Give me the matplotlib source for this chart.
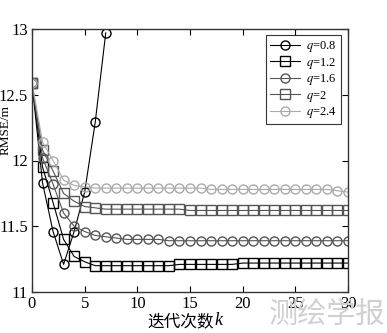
import numpy as np
import matplotlib
matplotlib.use("Agg")
import matplotlib.pyplot as plt

plt.rcParams['font.family'] = ['Liberation Serif', 'Noto Sans CJK SC']
plt.rcParams['mathtext.fontset'] = 'stix'

k = np.arange(0, 31)

# q=0.8 diverges after k=3, only plotted up to k=7
k_08 = np.arange(0, 8)
rmse_08 = [12.59, 11.83, 11.46, 11.21, 11.46, 11.76, 12.29, 12.97]

rmse_12 = [12.59, 11.95, 11.68, 11.40, 11.27, 11.23, 11.20, 11.20, 11.20, 11.20,
           11.20, 11.20, 11.20, 11.20, 11.21, 11.21, 11.21, 11.21, 11.21, 11.21,
           11.22, 11.22, 11.22, 11.22, 11.22, 11.22, 11.22, 11.22, 11.22, 11.22, 11.22]
rmse_16 = [12.59, 12.02, 11.82, 11.60, 11.50, 11.46, 11.43, 11.42, 11.41, 11.40,
           11.40, 11.40, 11.40, 11.39, 11.39, 11.39, 11.39, 11.39, 11.39, 11.39,
           11.39, 11.39, 11.39, 11.39, 11.39, 11.39, 11.39, 11.39, 11.39, 11.39, 11.39]
rmse_20 = [12.59, 12.08, 11.92, 11.75, 11.69, 11.65, 11.64, 11.63, 11.63, 11.63,
           11.63, 11.63, 11.63, 11.63, 11.63, 11.62, 11.62, 11.62, 11.62, 11.62,
           11.62, 11.62, 11.62, 11.62, 11.62, 11.62, 11.62, 11.62, 11.62, 11.62, 11.62]
rmse_24 = [12.59, 12.14, 12.00, 11.85, 11.81, 11.80, 11.79, 11.79, 11.79, 11.79,
           11.79, 11.79, 11.79, 11.79, 11.79, 11.79, 11.79, 11.78, 11.78, 11.78,
           11.78, 11.78, 11.78, 11.78, 11.78, 11.78, 11.78, 11.78, 11.78, 11.77, 11.76]

labels = ['$q$=0.8', '$q$=1.2', '$q$=1.6', '$q$=2', '$q$=2.4']

fig = plt.figure(figsize=(3.87, 3.33), dpi=100)
ax = fig.add_axes([32/387, 41/333, 316/387, 263/333])

# watermark sits behind everything
fig.text(0.995, 0.01, '测绘学报', fontsize=21, color='#d0d0d0', ha='right', va='bottom',
         family=['Noto Sans CJK SC'], zorder=0)

ms = 6.5
ax.plot(k_08, rmse_08, '-o', color='black', mfc='none', ms=ms, lw=0.8, label=labels[0])
ax.plot(k, rmse_12, '-s', color='black', mfc='none', ms=ms, lw=0.8, label=labels[1])
ax.plot(k, rmse_16, '-o', color='#555555', mfc='none', ms=ms, lw=0.8, label=labels[2])
ax.plot(k, rmse_20, '-s', color='#555555', mfc='none', ms=ms, lw=0.8, label=labels[3])
ax.plot(k, rmse_24, '-o', color='#aaaaaa', mfc='none', ms=ms, lw=0.8, label=labels[4])

ax.set_xlim(0, 30)
ax.set_ylim(11, 13)
ax.set_xticks([0, 5, 10, 15, 20, 25, 30])
ax.set_yticks([11, 11.5, 12, 12.5, 13])
ax.set_yticklabels(['11', '11.5', '12', '12.5', '13'])
ax.tick_params(direction='in', top=True, right=True, labelsize=12, length=4, pad=3)
ax.patch.set_alpha(0)
for s in ax.spines.values():
    s.set_linewidth(1.0)
    s.set_color('#333333')

# x label: Chinese text plus italic k, drawn as two pieces
xl = ax.set_xlabel('迭代次数', fontsize=12, labelpad=1, family=['Noto Sans CJK SC'])
xl.set_x(0.47)
fig.canvas.draw()
bb = xl.get_window_extent().transformed(fig.transFigure.inverted())
fig.text(bb.x1 + 0.002, bb.y0 + 0.004, 'k', fontsize=13, style='italic',
         family=['Liberation Serif'], ha='left', va='bottom')

fig.text(0.0, 0.61, 'RMSE/m', fontsize=9.5, rotation=90, ha='left', va='center')

leg = ax.legend(loc='upper right', fontsize=9, frameon=True, fancybox=False,
                edgecolor='black', handlelength=2.4, borderpad=0.3, labelspacing=0.12,
                handletextpad=0.5, borderaxespad=0.2, bbox_to_anchor=(0.985, 0.985))
leg.get_frame().set_linewidth(0.8)

fig.savefig('out.png', dpi=100)
